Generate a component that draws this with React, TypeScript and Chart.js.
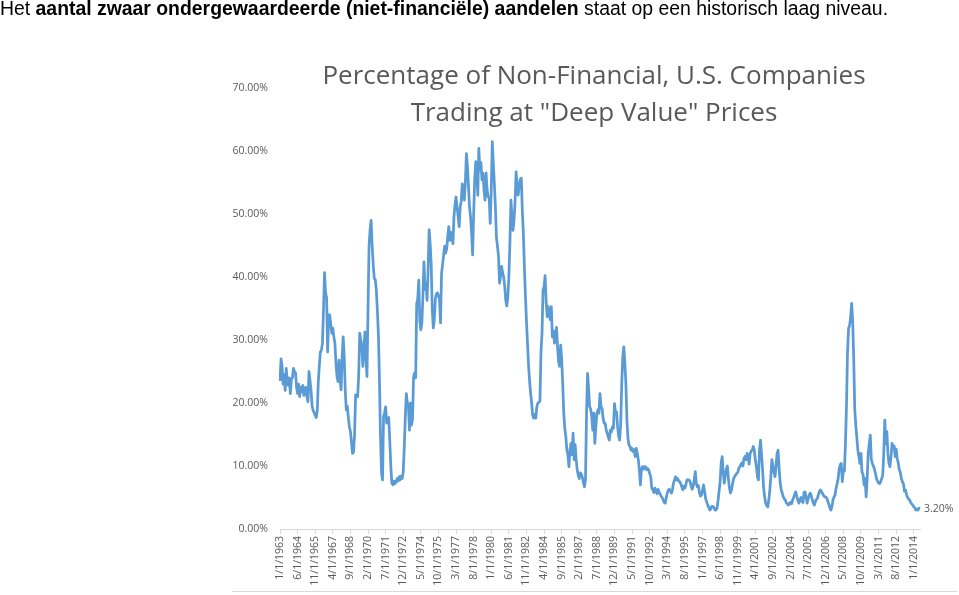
import { useEffect, useRef } from 'react';
import { Chart, registerables } from 'chart.js';

Chart.register(...registerables);

// Monthly percentage of non-financial U.S. companies trading at "deep value" prices
const v1963 = [23.5, 27.0, 25.8, 23.0, 24.5, 22.0, 25.5, 23.5, 22.8, 24.0, 21.5, 23.8];
const v1964 = [24.0, 25.5, 25.0, 24.8, 22.5, 21.5, 23.0, 21.0, 22.5, 21.8, 22.8, 21.2];
const v1965 = [22.0, 22.5, 21.0, 20.2, 25.0, 23.5, 22.0, 19.5, 18.8, 18.5, 18.0, 17.7];
const v1966 = [18.8, 23.4, 26.0, 28.1, 28.4, 29.5, 34.8, 40.7, 37.5, 36.7, 28.1, 34.0];
const v1967 = [34.0, 32.5, 31.1, 31.9, 30.5, 29.5, 26.5, 24.2, 23.4, 26.8, 23.7, 22.1];
const v1968 = [27.2, 30.5, 27.5, 22.0, 18.9, 19.5, 17.7, 16.2, 15.5, 13.8, 12.0, 12.2];
const v1969 = [15.0, 21.3, 21.2, 21.0, 24.5, 31.1, 30.0, 29.0, 25.8, 28.5, 31.3, 27.0];
const v1970 = [24.2, 35.0, 45.0, 47.5, 49.0, 45.0, 42.0, 39.8, 39.6, 38.0, 34.8, 31.0];
const v1971 = [24.0, 15.0, 9.0, 7.8, 17.8, 18.5, 19.4, 16.8, 17.5, 17.7, 14.0, 10.0];
const v1972 = [7.3, 7.0, 7.6, 7.2, 7.4, 8.0, 7.6, 8.3, 7.8, 8.4, 8.0, 9.0];
const v1973 = [13.0, 17.8, 21.5, 20.0, 19.5, 15.7, 20.0, 16.5, 17.5, 24.2, 24.8, 24.0];
const v1974 = [35.8, 36.5, 39.5, 33.0, 31.6, 32.7, 37.0, 42.4, 38.0, 39.0, 36.3, 41.0];
const v1975 = [47.5, 45.3, 42.0, 35.0, 31.9, 33.2, 36.5, 37.3, 37.5, 37.0, 36.5, 32.7];
const v1976 = [40.6, 42.0, 43.5, 44.9, 43.8, 44.5, 46.5, 48.0, 45.8, 47.1, 46.5, 45.3];
const v1977 = [49.6, 51.5, 52.7, 51.1, 49.6, 48.0, 51.1, 52.0, 54.8, 54.0, 52.2, 55.0];
const v1978 = [59.6, 57.5, 54.5, 51.1, 49.6, 47.0, 43.5, 50.0, 55.4, 58.3, 57.2, 53.0];
const v1979 = [60.4, 57.0, 58.2, 55.4, 56.5, 53.8, 52.2, 56.5, 53.8, 52.7, 52.5, 48.5];
const v1980 = [53.8, 61.5, 58.1, 54.8, 51.1, 46.3, 44.9, 43.3, 39.0, 40.1, 41.7, 40.6];
const v1981 = [40.0, 38.5, 36.3, 35.4, 36.8, 40.0, 45.3, 52.2, 49.5, 47.4, 49.0, 52.0];
const v1982 = [56.7, 54.5, 53.0, 54.6, 55.5, 55.7, 50.5, 47.0, 41.5, 37.0, 33.0, 29.5];
const v1983 = [26.0, 23.5, 21.5, 20.0, 18.0, 17.6, 18.2, 17.6, 19.4, 20.0, 20.1, 20.3];
const v1984 = [28.0, 31.0, 37.9, 38.5, 40.2, 36.0, 33.7, 35.3, 34.0, 33.2, 35.3, 30.5];
const v1985 = [31.5, 29.5, 30.0, 32.0, 28.9, 26.6, 25.8, 29.2, 26.9, 23.1, 18.4, 16.0];
const v1986 = [14.7, 12.5, 11.8, 9.9, 12.5, 13.6, 11.8, 15.2, 11.0, 13.4, 11.0, 9.4];
const v1987 = [8.5, 8.0, 8.9, 8.7, 8.2, 7.3, 6.7, 7.8, 18.4, 24.7, 22.3, 19.4];
const v1988 = [19.0, 17.9, 15.7, 18.4, 13.6, 16.2, 18.4, 18.9, 18.4, 21.5, 19.4, 19.1];
const v1989 = [17.6, 16.8, 16.8, 15.7, 15.2, 14.6, 14.1, 15.7, 15.4, 16.2, 16.0, 19.9];
const v1990 = [18.4, 18.6, 16.2, 14.7, 14.1, 16.8, 23.1, 27.3, 28.9, 26.3, 23.1, 17.3];
const v1991 = [14.4, 13.3, 13.1, 12.5, 12.8, 12.3, 12.6, 11.5, 12.8, 12.0, 11.0, 9.4];
const v1992 = [7.0, 9.4, 9.9, 9.5, 9.9, 9.9, 9.4, 9.6, 9.4, 8.8, 8.3, 6.5];
const v1993 = [6.2, 5.8, 6.5, 6.0, 5.6, 6.3, 5.9, 5.6, 5.2, 5.0, 4.6, 4.2];
const v1994 = [4.1, 5.0, 5.7, 6.2, 6.3, 6.0, 5.7, 6.3, 7.3, 7.8, 8.3, 7.8];
const v1995 = [8.0, 7.6, 7.5, 7.2, 6.7, 6.2, 6.8, 6.5, 7.1, 7.8, 7.8, 7.8];
const v1996 = [7.5, 6.8, 6.3, 6.8, 7.8, 9.1, 7.2, 6.7, 6.9, 5.8, 5.2, 5.4];
const v1997 = [6.2, 7.0, 6.0, 4.8, 4.3, 3.8, 3.4, 3.0, 3.2, 3.6, 3.6, 3.4];
const v1998 = [3.0, 3.0, 3.3, 4.5, 6.0, 7.5, 10.5, 11.5, 9.0, 7.3, 8.5, 9.5];
const v1999 = [10.0, 8.0, 6.5, 5.7, 6.2, 7.2, 8.0, 8.3, 8.6, 8.8, 9.0, 9.6];
const v2000 = [9.9, 10.2, 10.5, 10.0, 11.2, 11.5, 11.0, 12.0, 11.5, 10.3, 12.0, 12.4];
const v2001 = [12.5, 13.1, 12.5, 11.0, 9.9, 8.3, 7.8, 12.5, 14.1, 11.8, 9.4, 6.5];
const v2002 = [5.1, 4.1, 3.7, 3.5, 4.6, 6.2, 8.3, 11.0, 10.0, 9.0, 8.3, 10.0];
const v2003 = [12.0, 12.5, 9.5, 7.3, 6.2, 5.7, 5.1, 4.8, 4.6, 4.1, 4.0, 3.8];
const v2004 = [4.1, 4.2, 4.0, 4.6, 5.0, 5.5, 5.9, 5.2, 4.6, 4.1, 4.5, 5.0];
const v2005 = [4.5, 4.2, 5.8, 5.9, 5.0, 4.1, 4.8, 5.4, 5.7, 5.3, 4.6, 4.1];
const v2006 = [3.8, 4.4, 4.7, 4.9, 5.5, 6.0, 6.2, 5.9, 5.6, 5.3, 5.1, 5.1];
const v2007 = [4.9, 4.4, 3.9, 3.3, 3.0, 3.6, 4.6, 5.1, 5.4, 6.5, 7.2, 8.0];
const v2008 = [9.6, 10.2, 10.4, 7.5, 9.5, 9.2, 13.5, 19.5, 28.0, 31.8, 32.3, 33.6];
const v2009 = [35.8, 33.0, 27.0, 19.0, 16.5, 14.5, 12.5, 11.5, 10.4, 12.0, 9.0, 8.7];
const v2010 = [7.0, 8.0, 5.1, 8.0, 12.0, 13.5, 14.9, 11.0, 10.4, 10.0, 9.5, 8.8];
const v2011 = [8.0, 7.6, 7.3, 7.2, 7.5, 8.0, 8.5, 12.0, 17.3, 13.5, 15.5, 12.0];
const v2012 = [10.4, 9.9, 11.5, 13.6, 13.0, 13.2, 11.5, 12.7, 11.2, 10.5, 9.4, 9.0];
const v2013 = [8.0, 7.5, 7.2, 6.0, 6.2, 5.5, 5.0, 4.8, 4.6, 4.2, 4.0, 3.8];
const v2014 = [3.5, 3.4, 3.0, 3.1, 3.0, 3.3, 3.2];

const startYear = 1963;
const yearSeries = [
  v1963, v1964, v1965, v1966, v1967, v1968, v1969, v1970, v1971, v1972,
  v1973, v1974, v1975, v1976, v1977, v1978, v1979, v1980, v1981, v1982,
  v1983, v1984, v1985, v1986, v1987, v1988, v1989, v1990, v1991, v1992,
  v1993, v1994, v1995, v1996, v1997, v1998, v1999, v2000, v2001, v2002,
  v2003, v2004, v2005, v2006, v2007, v2008, v2009, v2010, v2011, v2012,
  v2013, v2014,
];

// Tick labels shown on the category axis
const tickLabels = [
  '1/1/1963', '6/1/1964', '11/1/1965', '4/1/1967', '9/1/1968', '2/1/1970',
  '7/1/1971', '12/1/1972', '5/1/1974', '10/1/1975', '3/1/1977', '8/1/1978',
  '1/1/1980', '6/1/1981', '11/1/1982', '4/1/1984', '9/1/1985', '2/1/1987',
  '7/1/1988', '12/1/1989', '5/1/1991', '10/1/1992', '3/1/1994', '8/1/1995',
  '1/1/1997', '6/1/1998', '11/1/1999', '4/1/2001', '9/1/2002', '2/1/2004',
  '7/1/2005', '12/1/2006', '5/1/2008', '10/1/2009', '3/1/2011', '8/1/2012',
  '1/1/2014',
];

const yTicks = [0, 10, 20, 30, 40, 50, 60, 70];

const titleLines = ['Percentage of Non-Financial, U.S. Companies', 'Trading at "Deep Value" Prices'];

const categories: string[] = [];
const values: number[] = [];
yearSeries.forEach((arr, yi) => {
  arr.forEach((v, mi) => {
    categories.push(`${mi + 1}/1/${startYear + yi}`);
    values.push(v);
  });
});

const GRAY = '#595959';
const AXIS = '#d9d9d9';
const LINE = '#5b9bd5';
const FONT = "'Open Sans', sans-serif";

const lastLabelPlugin = {
  id: 'lastLabel',
  afterDatasetsDraw(chart: any) {
    const meta = chart.getDatasetMeta(0);
    const pts = meta.data;
    if (!pts.length) return;
    const p = pts[pts.length - 1];
    const v = chart.data.datasets[0].data[pts.length - 1] as number;
    const ctx = chart.ctx;
    ctx.save();
    ctx.font = `10.5px ${FONT}`;
    ctx.fillStyle = GRAY;
    ctx.textAlign = 'left';
    ctx.textBaseline = 'middle';
    ctx.fillText(`${v.toFixed(2)}%`, p.x + 4, p.y);
    ctx.restore();
  },
};

export default function App() {
  const ref = useRef<HTMLCanvasElement>(null);

  useEffect(() => {
    if (!ref.current) return;
    const tickSet = new Set(tickLabels);
    const chart = new Chart(ref.current, {
      type: 'line',
      data: {
        labels: categories,
        datasets: [
          {
            data: values,
            borderColor: LINE,
            borderWidth: 2.75,
            pointRadius: 0,
            tension: 0,
            fill: false,
            borderJoinStyle: 'round',
          },
        ],
      },
      options: {
        animation: false,
        responsive: false,
        maintainAspectRatio: false,
        layout: { padding: { left: 0, top: 88, right: 39, bottom: 0 } },
        plugins: {
          legend: { display: false },
          tooltip: { enabled: false },
          title: { display: false },
        },
        scales: {
          x: {
            type: 'category',
            offset: false,
            afterFit: (scale: any) => {
              scale.height = 66;
            },
            grid: {
              display: true,
              drawOnChartArea: false,
              drawTicks: true,
              tickLength: 5,
              color: AXIS,
              offset: false,
            },
            border: { display: true, color: AXIS, width: 1 },
            ticks: {
              autoSkip: false,
              maxRotation: 90,
              minRotation: 90,
              padding: 2,
              color: GRAY,
              font: { family: FONT, size: 10.5 },
              callback: (_v: any, i: number) => (tickSet.has(categories[i]) ? categories[i] : null),
            },
          },
          y: {
            min: yTicks[0],
            max: yTicks[yTicks.length - 1],
            afterFit: (scale: any) => {
              scale.width = 280;
            },
            afterBuildTicks: (scale: any) => {
              scale.ticks = yTicks.map((v) => ({ value: v }));
            },
            grid: { display: false, drawTicks: false },
            border: { display: false },
            ticks: {
              padding: 12,
              color: GRAY,
              font: { family: FONT, size: 10.5 },
              callback: (v: any) => `${Number(v).toFixed(2)}%`,
            },
          },
        },
      },
      plugins: [lastLabelPlugin],
    });
    return () => chart.destroy();
  }, []);

  return (
    <div
      style={{
        position: 'absolute',
        left: 0,
        top: 0,
        width: 959,
        height: 595,
        background: '#ffffff',
        overflow: 'hidden',
      }}
    >
      <canvas
        ref={ref}
        width={959}
        height={595}
        style={{ position: 'absolute', left: 0, top: 0, width: 959, height: 595 }}
      />
      <div
        style={{
          position: 'absolute',
          left: 0,
          top: -3,
          whiteSpace: 'nowrap',
          fontFamily: "'Liberation Sans', Arial, sans-serif",
          fontSize: 19.4,
          color: '#000',
        }}
      >
        Het <b>aantal zwaar ondergewaardeerde (niet-financiële) aandelen</b> staat op een historisch laag niveau.
      </div>
      <div
        style={{
          position: 'absolute',
          left: 225,
          top: 56,
          width: 738,
          textAlign: 'center',
          fontFamily: FONT,
          fontSize: 26,
          lineHeight: '37px',
          color: GRAY,
          whiteSpace: 'nowrap',
        }}
      >
        {titleLines.map((t) => (
          <div key={t}>{t}</div>
        ))}
      </div>
      <div
        style={{
          position: 'absolute',
          left: 232,
          top: 591,
          width: 725,
          height: 1,
          background: AXIS,
        }}
      />
    </div>
  );
}
